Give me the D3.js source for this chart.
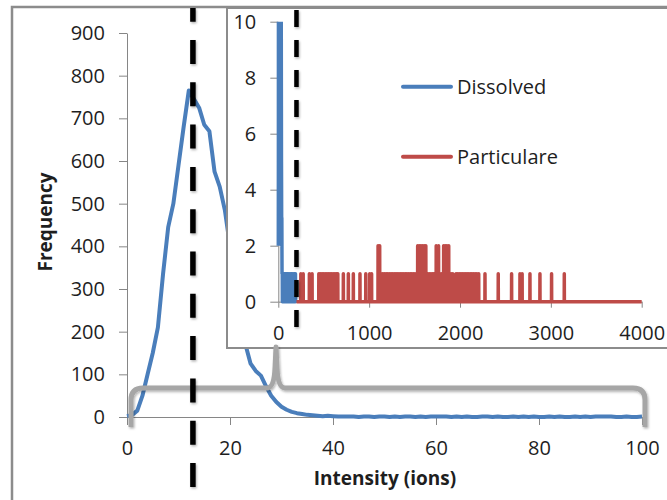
<!DOCTYPE html>
<html>
<head>
<meta charset="utf-8">
<script src="https://cdn.jsdelivr.net/npm/d3@7"></script>
<style>
  body { margin: 0; background: #fff; }
  svg text { font-family: 'Open Sans', sans-serif; fill: #1e1e1e; }
</style>
</head>
<body>
<div id="chartContainer"></div>
<script>
// Dissolved counts per intensity bin, 0..100 ions (index = intensity)
var dissolvedCounts = [
  2, 5, 15, 50, 100, 150, 210, 335, 445, 500,
  590, 680, 765, 745, 725, 685, 670, 575, 540, 485,
  400, 310, 230, 170, 125, 108, 97, 72, 50, 35,
  24, 17, 12, 9, 7, 5, 4, 3, 2, 3,
  2, 1, 1, 1, 1, 0, 1, 1, 0, 1,
  1, 0, 1, 0, 1, 1, 0, 1, 0, 1,
  1, 1, 1, 0, 1, 0, 1, 0, 0, 1,
  1, 0, 1, 0, 0, 1, 0, 1, 0, 1,
  0, 0, 1, 0, 1, 0, 0, 1, 0, 1,
  0, 1, 1, 1, 1, 0, 0, 1, 0, 0,
  1
];
// Dissolved single events above 100 ions (only seen in the inset)
var dissolvedTailIons = [104, 113, 121, 130, 139, 147, 156, 164, 173, 181, 189];

// Particulate events: intensity (ions) and count
var particulateIons = [
  248, 274, 342, 372,
  446, 463, 481, 498, 516, 534, 551, 569, 586, 604, 622, 639, 655,
  716, 771, 826, 899, 963, 1006, 1027,
  1098, 1116,
  1134, 1151, 1169, 1187, 1204, 1222, 1240, 1257, 1275, 1293, 1310, 1328,
  1346, 1363, 1381, 1399, 1416, 1434, 1452, 1469, 1487, 1505, 1518,
  1534, 1552, 1570, 1588, 1606, 1624,
  1644, 1662, 1680, 1698, 1714,
  1738, 1764,
  1794,
  1820, 1838, 1856, 1876,
  1902, 1920,
  1956, 1973, 1991, 2009, 2026, 2044, 2062, 2079, 2097, 2115, 2132, 2150,
  2168, 2186, 2206,
  2275, 2421, 2568, 2660, 2684, 2770, 2880, 3008, 3148
];
var particulateCounts = [
  1, 1, 1, 1,
  1, 1, 1, 1, 1, 1, 1, 1, 1, 1, 1, 1, 1,
  1, 1, 1, 1, 1, 1, 1,
  2, 2,
  1, 1, 1, 1, 1, 1, 1, 1, 1, 1, 1, 1,
  1, 1, 1, 1, 1, 1, 1, 1, 1, 1, 1,
  2, 2, 2, 2, 2, 2,
  1, 1, 1, 1, 1,
  2, 2,
  1,
  2, 2, 2, 2,
  1, 1,
  1, 1, 1, 1, 1, 1, 1, 1, 1, 1, 1, 1,
  1, 1, 1,
  1, 1, 1, 1, 1, 1, 1, 1, 1
];
var particulateRange = [200, 4000];

// Tick labels
var mainXTicks = [0, 20, 40, 60, 80, 100];
var mainYTicks = [0, 100, 200, 300, 400, 500, 600, 700, 800, 900];
var insetXTicks = [0, 1000, 2000, 3000, 4000];
var insetYTicks = [0, 2, 4, 6, 8, 10];

// Cut-off markers (dashed lines)
var mainCutoff = 12.8;
var insetCutoff = 200;

var blue = '#4a7ebb', red = '#be4b48', axisGrey = '#868686', frameGrey = '#8c8c8c';

var svg = d3.select('#chartContainer').append('svg')
  .attr('width', 667).attr('height', 500);

// Soft shadow like the Excel shapes
var defs = svg.append('defs');
defs.append('filter').attr('id', 'shadow')
  .attr('filterUnits', 'userSpaceOnUse')
  .attr('x', 0).attr('y', 0).attr('width', 667).attr('height', 500)
  .append('feDropShadow')
  .attr('dx', 1).attr('dy', 1.5).attr('stdDeviation', 1.2)
  .attr('flood-color', '#000').attr('flood-opacity', 0.3);

// Outer chart frame
svg.append('rect')
  .attr('x', 12).attr('y', 7).attr('width', 700).attr('height', 520)
  .style('fill', 'none').style('stroke', frameGrey).style('stroke-width', 2.5);

// ---- Main chart ----
var xMain = d3.scaleLinear().domain([0, 100]).range([127, 642]);
var yMain = d3.scaleLinear().domain([0, 900]).range([417, 33]);

function styleAxis(g, size) {
  g.attr('font-family', null).attr('font-size', null);
  g.selectAll('path,line').style('stroke', axisGrey).style('stroke-width', 1);
  g.selectAll('text').style('font-size', size + 'px');
}

svg.append('g')
  .attr('transform', 'translate(' + xMain(0) + ',0)')
  .call(d3.axisLeft(yMain).tickValues(mainYTicks).tickSize(8).tickSizeOuter(0).tickPadding(14))
  .call(styleAxis, 20);

svg.append('g')
  .attr('transform', 'translate(0,' + yMain(0) + ')')
  .call(d3.axisBottom(xMain).tickValues(mainXTicks).tickSize(8).tickSizeOuter(0).tickPadding(16))
  .call(styleAxis, 20);

var mainLine = d3.line()
  .x(function(d) { return xMain(d[0]); })
  .y(function(d) { return yMain(d[1]); });

svg.append('path')
  .datum(dissolvedCounts.map(function(c, i) { return [i, c]; }))
  .attr('d', mainLine)
  .style('fill', 'none').style('stroke', blue)
  .style('stroke-width', 4).style('stroke-linejoin', 'round');

// Axis titles
svg.append('text')
  .attr('transform', 'translate(52,222) rotate(-90)')
  .attr('text-anchor', 'middle')
  .style('font-size', '19px').style('font-weight', 'bold')
  .text('Frequency');

svg.append('text')
  .attr('x', 385).attr('y', 485)
  .attr('text-anchor', 'middle')
  .style('font-size', '19px').style('font-weight', 'bold')
  .text('Intensity (ions)');

// ---- Inset chart ----
svg.append('rect')
  .attr('x', 227).attr('y', 8).attr('width', 500).attr('height', 340)
  .style('fill', '#fff').style('stroke', frameGrey).style('stroke-width', 2);

var xIn = d3.scaleLinear().domain([0, 4000]).range([278.3, 641.7]);
var yIn = d3.scaleLinear().domain([0, 10]).range([301.7, 21.7]);

svg.append('g')
  .attr('transform', 'translate(' + xIn(0) + ',0)')
  .call(d3.axisLeft(yIn).tickValues(insetYTicks).tickSize(8).tickSizeOuter(0).tickPadding(14))
  .call(styleAxis, 20);

svg.append('g')
  .attr('transform', 'translate(0,' + yIn(0) + ')')
  .call(d3.axisBottom(xIn).tickValues(insetXTicks).tickFormat(d3.format('d'))
    .tickSize(6).tickSizeOuter(0).tickPadding(18))
  .call(styleAxis, 20);

defs.append('clipPath').attr('id', 'insetClip')
  .append('rect')
  .attr('x', 270).attr('y', yIn(10)).attr('width', 390).attr('height', yIn(0) - yIn(10) + 5);

var inLine = d3.line()
  .x(function(d) { return xIn(d[0]); })
  .y(function(d) { return yIn(d[1]); });

// Dissolved: the 0..100 bins plus the sparse tail events
var dissolvedInset = dissolvedCounts.map(function(c, i) { return [i, c]; });
dissolvedTailIons.forEach(function(t) {
  dissolvedInset.push([t - 1, 0], [t, 1], [t + 1, 0]);
});

// Particulate: baseline with one spike per event
var particulateInset = [[particulateRange[0], 0]];
particulateIons.forEach(function(t, i) {
  particulateInset.push([t - 1, 0], [t, particulateCounts[i]], [t + 1, 0]);
});
particulateInset.push([particulateRange[1], 0]);

var inPlot = svg.append('g').attr('clip-path', 'url(#insetClip)');
inPlot.append('path')
  .datum(dissolvedInset)
  .attr('d', inLine)
  .style('fill', 'none').style('stroke', blue)
  .style('stroke-width', 3.5).style('stroke-linejoin', 'round');
inPlot.append('path')
  .datum(particulateInset)
  .attr('d', inLine)
  .style('fill', 'none').style('stroke', red)
  .style('stroke-width', 3.5).style('stroke-linejoin', 'round');

// Legend
var legend = [
  { name: 'Dissolved', color: blue, y: 86.7 },
  { name: 'Particulare', color: red, y: 156.7 }
];
legend.forEach(function(l) {
  svg.append('line')
    .attr('x1', 403).attr('x2', 451).attr('y1', l.y).attr('y2', l.y)
    .style('stroke', l.color).style('stroke-width', 4).style('stroke-linecap', 'round');
  svg.append('text')
    .attr('x', 457).attr('y', l.y + 7)
    .style('font-size', '20px')
    .text(l.name);
});

// Inset cut-off line
svg.append('line')
  .attr('x1', xIn(insetCutoff)).attr('x2', xIn(insetCutoff))
  .attr('y1', 10).attr('y2', 340)
  .attr('filter', 'url(#shadow)')
  .style('stroke', '#000').style('stroke-width', 4.5)
  .style('stroke-dasharray', '17 13');

// Bracket linking the main x-range to the inset
var by = yMain(0) - 29, bBot = yMain(0) + 10, bL = xMain(0) + 4, bR = xMain(100) + 3, bS = 276;
svg.append('path')
  .attr('d', 'M' + bL + ',' + bBot + ' L' + bL + ',' + (by + 12) +
    ' Q' + bL + ',' + by + ' ' + (bL + 12) + ',' + by +
    ' L' + (bS - 9) + ',' + by +
    ' Q' + (bS - 2) + ',' + by + ' ' + (bS - 1) + ',' + (by - 20) +
    ' L' + bS + ',' + 347 +
    ' L' + (bS + 1) + ',' + (by - 20) +
    ' Q' + (bS + 2) + ',' + by + ' ' + (bS + 9) + ',' + by +
    ' L' + (bR - 12) + ',' + by +
    ' Q' + bR + ',' + by + ' ' + bR + ',' + (by + 12) +
    ' L' + bR + ',' + bBot)
  .attr('filter', 'url(#shadow)')
  .style('fill', 'none').style('stroke', '#a6a6a6')
  .style('stroke-width', 5).style('stroke-linejoin', 'round');

// Main cut-off line
svg.append('line')
  .attr('x1', xMain(mainCutoff)).attr('x2', xMain(mainCutoff))
  .attr('y1', 8).attr('y2', 497)
  .attr('filter', 'url(#shadow)')
  .style('stroke', '#000').style('stroke-width', 5.5)
  .style('stroke-dasharray', '24 18.3')
  .style('stroke-dashoffset', 10.3);
</script>
</body>
</html>
